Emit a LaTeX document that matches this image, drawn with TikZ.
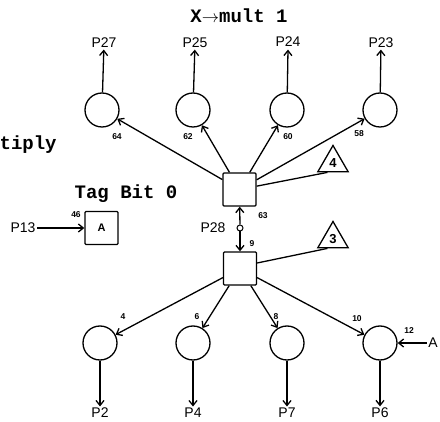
\documentclass[tikz,border=0pt]{standalone}
\usepackage{fontspec}
\setmainfont{Liberation Sans}
\newfontfamily\twfont{Liberation Mono}
\usetikzlibrary{arrows.meta,shapes.geometric,calc}
\begin{document}
\begin{tikzpicture}[x=1pt,y=-1pt,line width=1.3pt,
  place/.style={circle,draw,minimum size=34pt,inner sep=0pt},
  trans/.style={rectangle,draw,minimum size=33pt,inner sep=0pt,rounded corners=1pt},
  tri/.style={regular polygon,regular polygon sides=3,draw,minimum size=35pt,inner sep=0pt,font=\bfseries\fontsize{13}{13}\selectfont},
  lab/.style={font=\fontsize{14}{14}\selectfont,inner sep=1pt},
  num/.style={font=\bfseries\fontsize{8.5}{8.5}\selectfont,inner sep=0pt},
  tt/.style={font=\twfont\bfseries\fontsize{19}{19}\selectfont,inner sep=0pt},
  arr/.style={-{Straight Barb[length=5pt,width=8pt]}}]
\useasboundingbox (0,0) rectangle (440,422);

% texts
\node[tt,anchor=base] (title) at (239,23) {X$\rightarrow$mult 1};
\node[tt,anchor=base west] (tiply) at (-1,150) {tiply};
\node[tt,anchor=base] (tag) at (126,199) {Tag Bit 0};

% transitions
\node[trans] (t1) at (239.5,189.5) {};
\node[trans] (t2) at (240,268.5) {};

% top places
\node[place] (c64) at (102,110) {};
\node[place] (c62) at (193,110) {};
\node[place] (c60) at (287,110) {};
\node[place] (c58) at (380,110) {};

% bottom places
\node[place] (c4) at (100,343) {};
\node[place] (c6) at (193,343) {};
\node[place] (c8) at (287,343) {};
\node[place] (c10) at (380,343) {};

% output labels top
\node[lab] (p27) at (104,43) {P27};
\node[lab] (p25) at (195,43) {P25};
\node[lab] (p24) at (288,42) {P24};
\node[lab] (p23) at (381,43) {P23};
\draw[arr] (c64) -- (p27);
\draw[arr] (c62) -- (p25);
\draw[arr] (c60) -- (p24 |- p25.south);
\draw[arr] (c58) -- (p23);

% output labels bottom
\node[lab] (p2) at (100,413) {P2};
\node[lab] (p4) at (193,413) {P4};
\node[lab] (p7) at (287,413) {P7};
\node[lab] (p6) at (380,413) {P6};
\draw[arr] (c4) -- (p2);
\draw[arr] (c6) -- (p4);
\draw[arr] (c8) -- (p7);
\draw[arr] (c10) -- (p6);

% arcs from t1
\draw[arr] (t1) -- (c64);
\draw[arr] (t1) -- (c62);
\draw[arr] (t1) -- (c60);
\draw[arr] (t1) -- (c58);
\node[num] (n64) at (117,137) {64};
\node[num] (n62) at (188,137) {62};
\node[num] (n60) at (288,137) {60};
\node[num] (n58) at (359,134) {58};

% arcs from t2
\draw[arr] (t2) -- (c4);
\draw[arr] (t2) -- (c6);
\draw[arr] (t2) -- (c8);
\draw[arr] (t2) -- (c10);
\node[num] (n4) at (123,317) {4};
\node[num] (n6) at (197,317) {6};
\node[num] (n8) at (276,317) {8};
\node[num] (n10) at (357,319) {10};
\node[num] (n12) at (409,331) {12};

% right input A
\node[lab] (ain) at (433,343) {A};
\draw[arr] (ain) -- (c10);

% triangles
\node[tri] (tr4) at (333,163) {4};
\node[tri] (tr3) at (333,239) {3};
\draw (t1) -- ($(tr4.corner 2)!0.33!(tr4.corner 3)$);
\draw (t2.east |- 0,263) -- ($(tr3.corner 2)!0.33!(tr3.corner 3)$);

% link between transitions
\node[circle,draw,line width=1pt,minimum size=6pt,inner sep=0pt] (dot) at (240,228) {};
\draw[arr] (dot) -- (t1);
\draw[arr] (dot) -- (t2);
\node[lab] (p28) at (213,228) {P28};
\node[num] (n63) at (263,216) {63};
\node[num] (n9) at (252,244) {9};

% A box
\node[trans,font=\bfseries\fontsize{11}{11}\selectfont] (abox) at (101.5,228) {A};
\node[lab] (p13) at (23,228) {P13};
\node[num] (n46) at (76,215) {46};
\draw[arr] (p13) -- (abox);
\end{tikzpicture}
\end{document}
